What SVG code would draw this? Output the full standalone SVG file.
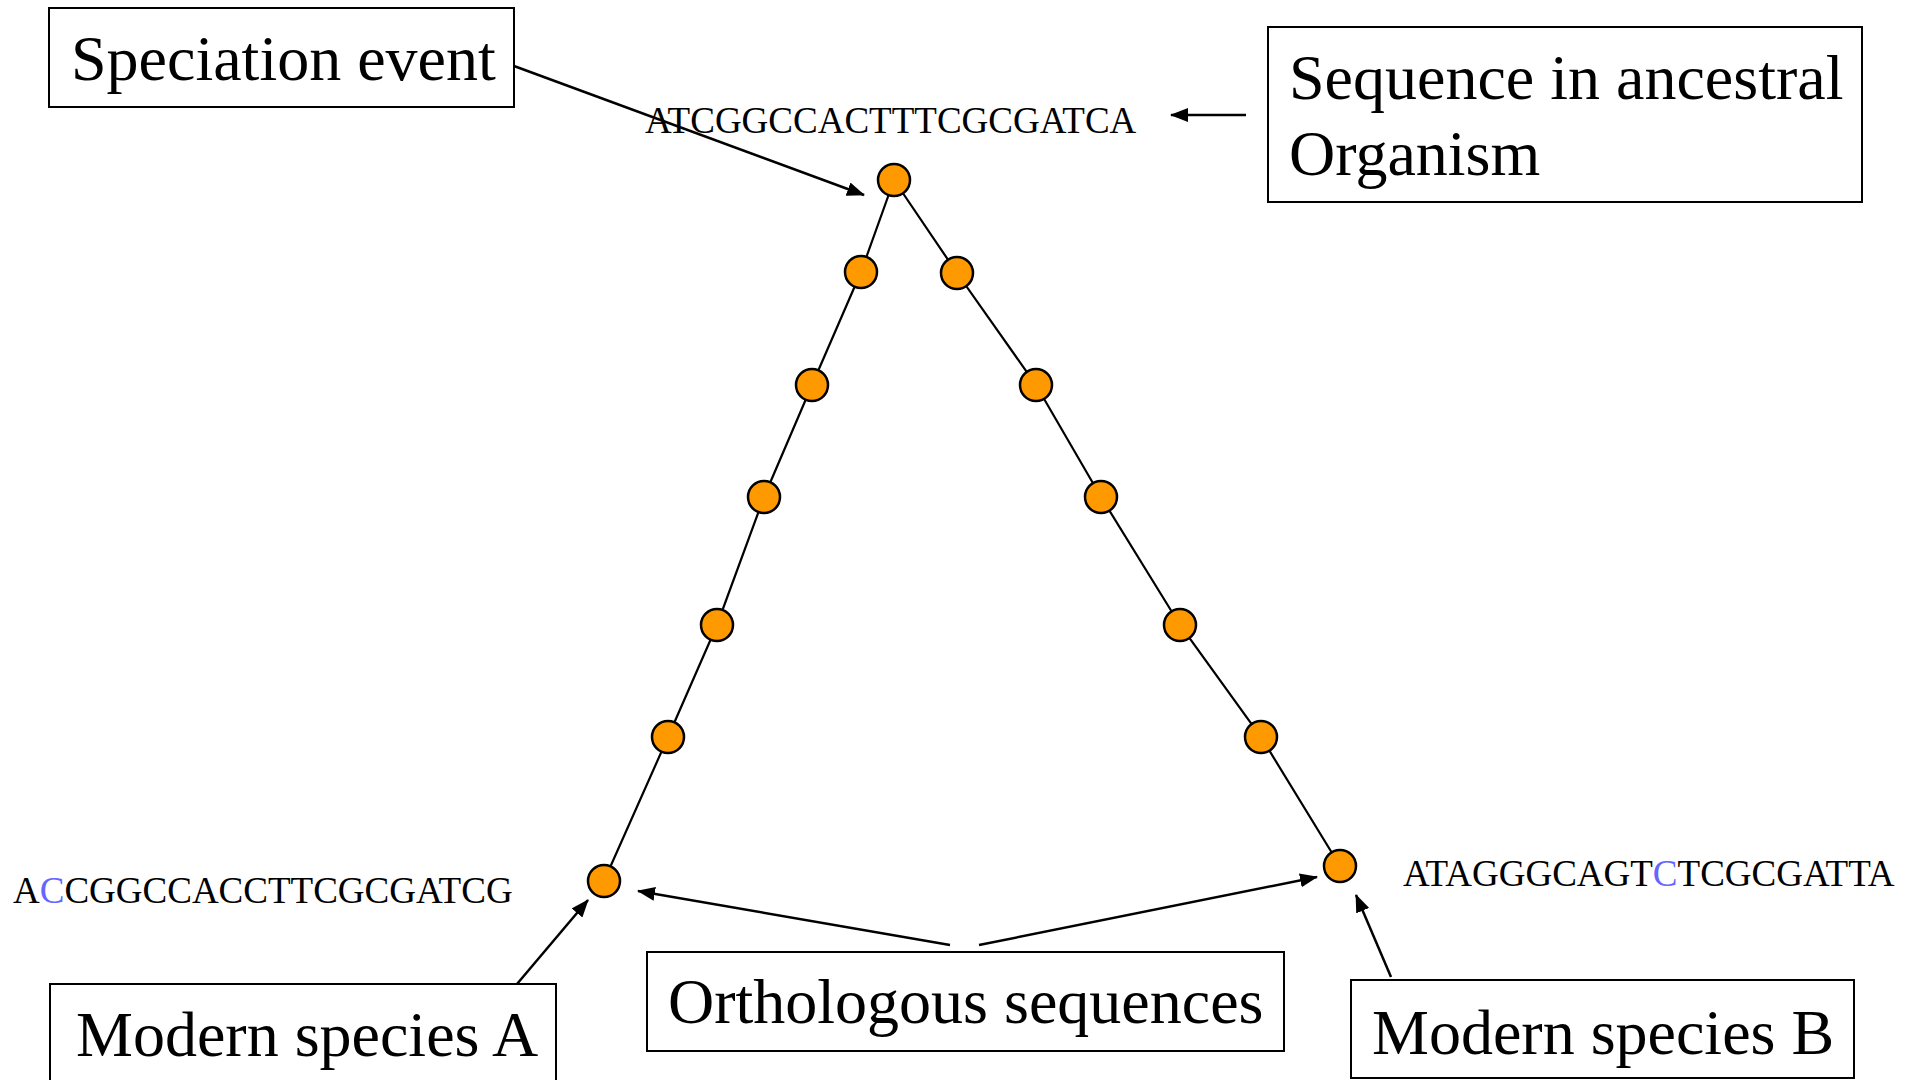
<svg xmlns="http://www.w3.org/2000/svg" width="1921" height="1080" viewBox="0 0 1921 1080">
  <style>
    .box { fill: #ffffff; stroke: #000000; stroke-width: 2; }
    .label { font-family: "Liberation Serif", "Times New Roman", serif; font-size: 64px; fill: #000000; }
    .seq { font-family: "Liberation Serif", "Times New Roman", serif; font-size: 37px; fill: #000000; }
    .mut { fill: #6666ff; }
    .branch { stroke: #000000; stroke-width: 2.2; fill: none; }
    .pointer { stroke: #000000; stroke-width: 2.5; fill: none; marker-end: url(#head); }
    .node { fill: #ff9900; stroke: #000000; stroke-width: 2.5; }
  </style>
  <defs>
    <marker id="head" markerUnits="userSpaceOnUse" markerWidth="18" markerHeight="14" refX="17" refY="7" orient="auto">
      <path d="M0,0 L18,7 L0,14 Z" fill="#000000"/>
    </marker>
  </defs>
  <rect width="1921" height="1080" fill="#ffffff"/>

  <!-- branches of the tree -->
  <g id="branches">
    <polyline class="branch" points="894,180 861,272 812,385 764,497 717,625 668,737 604,881"/>
    <polyline class="branch" points="894,180 957,273 1036,385 1101,497 1180,625 1261,737 1340,866"/>
  </g>

  <!-- pointer arrows from labels -->
  <g id="connectors">
    <line class="pointer" x1="514" y1="66" x2="864" y2="195"/>
    <line class="pointer" x1="1246" y1="115" x2="1171" y2="115"/>
    <line class="pointer" x1="517" y1="984" x2="588" y2="900"/>
    <line class="pointer" x1="950" y1="945" x2="638" y2="891"/>
    <line class="pointer" x1="979" y1="945" x2="1317" y2="877"/>
    <line class="pointer" x1="1391" y1="977" x2="1356" y2="895"/>
  </g>

  <!-- nodes on the tree -->
  <g id="tree-nodes">
    <circle id="n-root" class="node" cx="894" cy="180" r="16"/>
    <circle id="n-a1" class="node" cx="861" cy="272" r="16"/>
    <circle id="n-a2" class="node" cx="812" cy="385" r="16"/>
    <circle id="n-a3" class="node" cx="764" cy="497" r="16"/>
    <circle id="n-a4" class="node" cx="717" cy="625" r="16"/>
    <circle id="n-a5" class="node" cx="668" cy="737" r="16"/>
    <circle id="n-a6" class="node" cx="604" cy="881" r="16"/>
    <circle id="n-b1" class="node" cx="957" cy="273" r="16"/>
    <circle id="n-b2" class="node" cx="1036" cy="385" r="16"/>
    <circle id="n-b3" class="node" cx="1101" cy="497" r="16"/>
    <circle id="n-b4" class="node" cx="1180" cy="625" r="16"/>
    <circle id="n-b5" class="node" cx="1261" cy="737" r="16"/>
    <circle id="n-b6" class="node" cx="1340" cy="866" r="16"/>
  </g>

  <!-- sequences -->
  <g id="seq-ancestral">
    <text class="seq" x="645" y="133">ATCGGCCACTTTCGCGATCA</text>
  </g>
  <g id="seq-a">
    <text class="seq" x="13" y="903">A<tspan class="mut">C</tspan>CGGCCACCTTCGCGATCG</text>
  </g>
  <g id="seq-b">
    <text class="seq" x="1403" y="886">ATAGGGCAGT<tspan class="mut">C</tspan>TCGCGATTA</text>
  </g>

  <!-- label boxes -->
  <g id="label-speciation">
    <rect class="box" x="49" y="8" width="465" height="99"/>
    <text class="label" x="71" y="80">Speciation event</text>
  </g>
  <g id="label-ancestral">
    <rect class="box" x="1268" y="27" width="594" height="175"/>
    <text class="label" x="1289" y="99">Sequence in ancestral</text>
    <text class="label" x="1289" y="175">Organism</text>
  </g>
  <g id="label-species-a">
    <rect class="box" x="50" y="984" width="506" height="110"/>
    <text class="label" x="76" y="1056">Modern species A</text>
  </g>
  <g id="label-orthologous">
    <rect class="box" x="647" y="952" width="637" height="99"/>
    <text class="label" x="668" y="1023">Orthologous sequences</text>
  </g>
  <g id="label-species-b">
    <rect class="box" x="1351" y="980" width="503" height="98"/>
    <text class="label" x="1372" y="1054">Modern species B</text>
  </g>
</svg>
